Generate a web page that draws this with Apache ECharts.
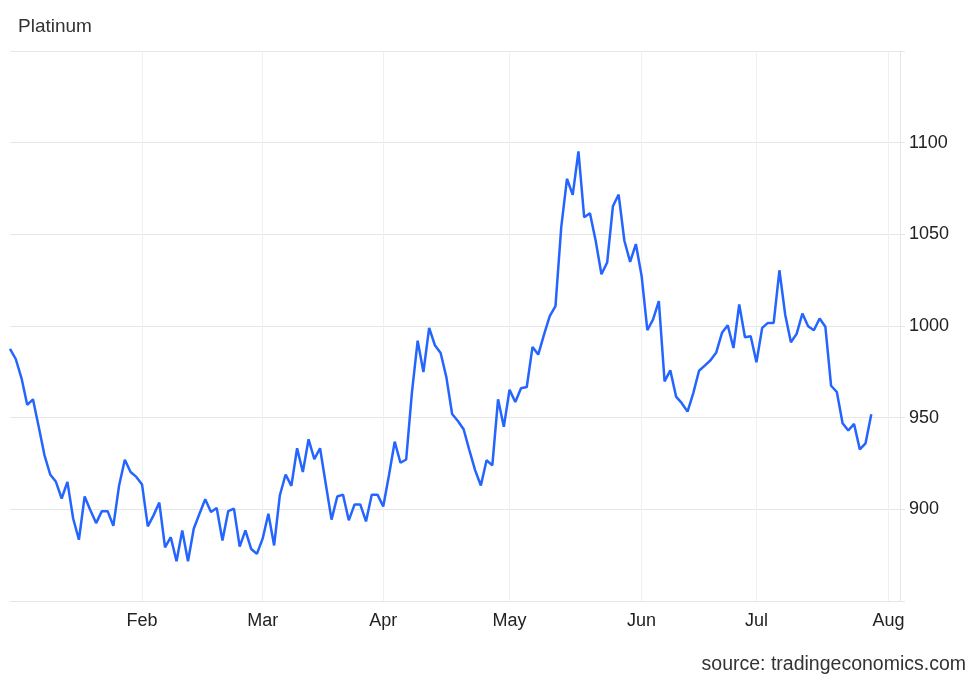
<!DOCTYPE html>
<html>
<head>
<meta charset="utf-8">
<script src="https://cdn.jsdelivr.net/npm/echarts@6/dist/echarts.min.js"></script>
<style>html,body{margin:0;padding:0;background:#fff}#c{width:980px;height:679px}</style>
</head>
<body>
<div id="c"></div>
<script>
// Weekday trading calendar, Jan 1 2024 through Aug 5 2024
const startDate = '2024-01-01';
const endDate = '2024-08-05';
const monthNames = ['Jan','Feb','Mar','Apr','May','Jun','Jul','Aug','Sep','Oct','Nov','Dec'];

// Platinum price (USD/t oz), one value per weekday from Jan 1 to Jul 29 2024
const prices = [
  987.5, 982, 971.6, 957, 960, 945, 929.6, 919, 915, 905.9,
  915, 895, 883.4, 907, 899.5, 892.5, 899, 899, 891, 913,
  927, 920.4, 917.7, 913.5, 890.7, 896.7, 903.7, 879.3, 884.8, 871.7,
  888.5, 871.7, 889.4, 897.6, 905.5, 898.5, 900.7, 883, 899, 900.4,
  879.7, 888.5, 878.4, 875.7, 884, 897.6, 880.3, 907.7, 919, 912.8,
  933.3, 920.4, 938.2, 927.4, 933.3, 913.7, 894.4, 907, 908, 894,
  902.6, 902.7, 893.4, 908, 908, 901.6, 918.6, 936.9, 925.4, 927.2,
  963.8, 992, 974.9, 999, 989.5, 985.3, 972, 952, 948.2, 943.7,
  932.3, 921.4, 913, 926.8, 924, 960, 945, 965.2, 958.5, 966,
  966.7, 988.6, 984.4, 995.3, 1005.4, 1010.8, 1053.8, 1080.3, 1071.5, 1095.2,
  1059.3, 1061.5, 1046.5, 1028.2, 1034.6, 1065.3, 1071.7, 1046.5, 1035, 1044.7,
  1027.3, 997.7, 1003.6, 1013.6, 969.8, 975.8, 961.5, 957.9, 953.3, 963.4,
  975.6, 978.4, 981.3, 985.6, 996.3, 1000.4, 988, 1011.8, 993.9, 994.4,
  980.2, 999, 1001.7, 1001.7, 1030.4, 1006.3, 991.1, 995.7, 1006.8, 999.9,
  997.7, 1004.1, 999.6, 967.4, 964, 947, 943, 946.6, 932.7, 936,
  951.9
];

const yTicks = [900, 950, 1000, 1050, 1100];

// build category list of weekdays
const dates = [];
{
  const d = new Date(startDate + 'T00:00:00Z');
  const e = new Date(endDate + 'T00:00:00Z');
  while (d <= e) {
    const wd = d.getUTCDay();
    if (wd !== 0 && wd !== 6) dates.push(d.toISOString().slice(0, 10));
    d.setUTCDate(d.getUTCDate() + 1);
  }
}
// indices of first weekday of each month (excluding the first category)
const monthStart = new Set();
for (let i = 1; i < dates.length; i++) {
  if (dates[i].slice(5, 7) !== dates[i - 1].slice(5, 7)) monthStart.add(i);
}
const isMonthStart = (idx) => monthStart.has(idx);

const chart = echarts.init(document.getElementById('c'), null, {renderer: 'canvas'});
const FONT = '"Liberation Sans", Arial, sans-serif';
chart.setOption({
  animation: false,
  backgroundColor: '#ffffff',
  textStyle: {fontFamily: FONT},
  title: [
    {text: 'Platinum', left: 18, top: 17, padding: 0, textStyle: {fontSize: 19, fontWeight: 'normal', color: '#333333', fontFamily: FONT}},
    {text: 'source: tradingeconomics.com', right: 14, top: 655, padding: 0, textStyle: {fontSize: 19.5, fontWeight: 'normal', color: '#333333', fontFamily: FONT}}
  ],
  grid: {left: 10, right: 80, top: 51, bottom: 78, containLabel: false, outerBoundsMode: 'none'},
  xAxis: {
    type: 'category',
    data: dates,
    boundaryGap: false,
    axisLine: {show: true, lineStyle: {color: '#e6e6e6', width: 1}},
    axisTick: {show: false},
    axisLabel: {
      interval: (idx) => isMonthStart(idx),
      formatter: (v) => monthNames[parseInt(v.slice(5, 7), 10) - 1],
      color: '#222222', fontSize: 18, margin: 11, fontFamily: FONT
    },
    splitLine: {show: true, interval: (idx) => isMonthStart(idx), lineStyle: {color: '#edf1f4', width: 1}}
  },
  yAxis: {
    type: 'value',
    position: 'right',
    min: 850, max: 1150, interval: 50,
    axisLine: {show: true, lineStyle: {color: '#e6e6e6', width: 1}},
    axisTick: {show: true, length: 5, lineStyle: {color: '#e6e6e6'}},
    axisLabel: {
      formatter: (v) => (yTicks.indexOf(v) >= 0 ? String(v) : ''),
      color: '#222222', fontSize: 18, margin: 9, fontFamily: FONT
    },
    splitLine: {show: true, lineStyle: {color: '#e6e6e6', width: 1}}
  },
  series: [{
    type: 'line',
    data: prices,
    showSymbol: false,
    symbol: 'none',
    lineStyle: {color: '#2464ff', width: 2.5},
    itemStyle: {color: '#2464ff'}
  }]
});
</script>
</body>
</html>
